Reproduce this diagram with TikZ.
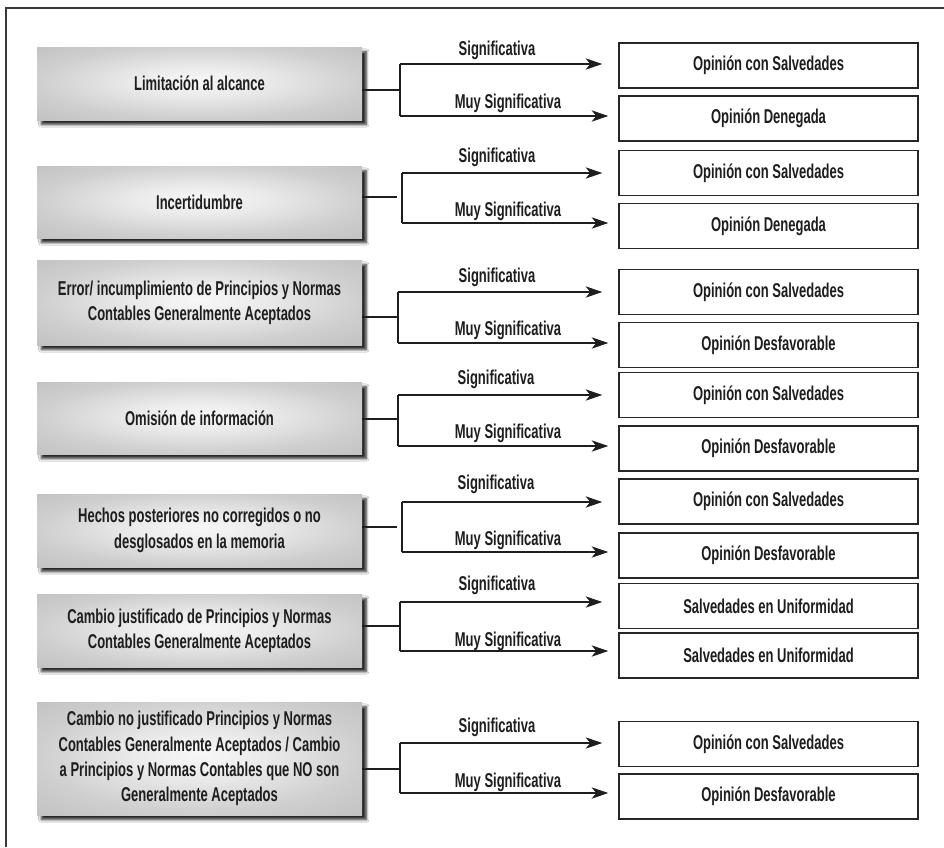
\documentclass[tikz,border=0pt]{standalone}
\usepackage{fontspec}
\setmainfont{Liberation Sans}[FakeStretch=0.65]
\usetikzlibrary{arrows.meta,shadows.blur}
\definecolor{ink}{HTML}{1E1E1E}
\definecolor{frame}{HTML}{3A3A3A}
\pgfdeclareradialshading{lboxshade}{\pgfpoint{0bp}{2bp}}{%
  color(0bp)=(black!3); color(10bp)=(black!8); color(25bp)=(black!19);
  color(36bp)=(black!24); color(50bp)=(black!27)}
\tikzset{
  lbox/.style={rectangle, minimum width=243.75pt, inner sep=2pt, align=center,
    text=ink, font=\fontsize{15}{19}\selectfont\bfseries,
    shading=lboxshade,
    blur shadow={shadow xshift=3.2pt, shadow yshift=-3.4pt, shadow blur radius=2pt,
      shadow blur steps=6, shadow opacity=85}},
  rbox/.style={rectangle, draw=black!85, line width=1.1pt, fill=white,
    minimum width=224.25pt, minimum height=33.75pt, inner sep=0pt,
    text=ink, font=\fontsize{15}{19}\selectfont\bfseries},
  lbl/.style={inner sep=0pt, text=ink, font=\fontsize{15}{19}\selectfont\bfseries},
  conn/.style={draw=ink, line width=1pt},
  arr/.style={conn, -{Stealth[length=12.5pt, width=8.5pt, inset=3.5pt]}},
}
\begin{document}
\begin{tikzpicture}[x=0.75pt, y=-0.75pt]
\useasboundingbox (0,0) rectangle (944,847);
\fill[white] (0,0) rectangle (944,847);
\draw[frame, line width=1.5pt] (6,847) -- (6,8) -- (944,8);

% ---------- Row 1
\node[lbox, minimum height=54.75pt] (L1) at (199.5,83.5) {Limitación al alcance};
\node[rbox] (R1a) at (768.5,65.5) {Opinión con Salvedades};
\node[rbox] (R1b) at (768.5,118.5) {Opinión Denegada};
\coordinate (J1) at (400,90);
\coordinate (J1a) at (400,64);
\coordinate (J1b) at (400,116);
\draw[conn] (L1.east |- J1) -- (J1);
\draw[conn] (J1a) -- (J1b);
\draw[arr, shorten >=12pt] (J1a) -- (J1a -| R1a.west);
\draw[arr, shorten >=7.5pt] (J1b) -- (J1b -| R1b.west);
\node[lbl] (S1) at (497,50) {Significativa};
\node[lbl] (M1) at (508,103) {Muy Significativa};

% ---------- Row 2
\node[lbox, minimum height=54pt] (L2) at (199.5,202) {Incertidumbre};
\node[rbox] (R2a) at (768.5,173) {Opinión con Salvedades};
\node[rbox] (R2b) at (768.5,226) {Opinión Denegada};
\coordinate (J2) at (397,197);
\coordinate (J2a) at (402,173);
\coordinate (J2b) at (402,223);
\draw[conn] (L2.east |- J2) -- (J2);
\draw[conn] (J2a) -- (J2b);
\draw[arr, shorten >=12pt] (J2a) -- (J2a -| R2a.west);
\draw[arr, shorten >=7.5pt] (J2b) -- (J2b -| R2b.west);
\node[lbl] (S2) at (497,157) {Significativa};
\node[lbl] (M2) at (508,211) {Muy Significativa};

% ---------- Row 3
\node[lbox, minimum height=63.75pt] (L3) at (199.5,302.5) {Error/ incumplimiento de Principios y Normas\\Contables Generalmente Aceptados};
\node[rbox] (R3a) at (768.5,292) {Opinión con Salvedades};
\node[rbox] (R3b) at (768.5,345) {Opinión Desfavorable};
\coordinate (J3) at (398,317);
\coordinate (J3a) at (398,292);
\coordinate (J3b) at (398,343);
\draw[conn] (L3.east |- J3) -- (J3);
\draw[conn] (J3a) -- (J3b);
\draw[arr, shorten >=12pt] (J3a) -- (J3a -| R3a.west);
\draw[arr, shorten >=7.5pt] (J3b) -- (J3b -| R3b.west);
\node[lbl] (S3) at (497,277) {Significativa};
\node[lbl] (M3) at (508,330) {Muy Significativa};

% ---------- Row 4
\node[lbox, minimum height=54pt] (L4) at (199.5,418) {Omisión de información};
\node[rbox] (R4a) at (768.5,395) {Opinión con Salvedades};
\node[rbox] (R4b) at (768.5,448.5) {Opinión Desfavorable};
\coordinate (J4) at (398,419);
\coordinate (J4a) at (398,395);
\coordinate (J4b) at (398,446);
\draw[conn] (L4.east |- J4) -- (J4);
\draw[conn] (J4a) -- (J4b);
\draw[arr, shorten >=12pt] (J4a) -- (J4a -| R4a.west);
\draw[arr, shorten >=7.5pt] (J4b) -- (J4b -| R4b.west);
\node[lbl] (S4) at (496,379) {Significativa};
\node[lbl] (M4) at (508,433) {Muy Significativa};

% ---------- Row 5
\node[lbox, minimum height=54.75pt] (L5) at (199.5,530.5) {Hechos posteriores no corregidos o no\\desglosados en la memoria};
\node[rbox] (R5a) at (768.5,501.5) {Opinión con Salvedades};
\node[rbox] (R5b) at (768.5,555.5) {Opinión Desfavorable};
\coordinate (J5) at (397,527);
\coordinate (J5a) at (402,502);
\coordinate (J5b) at (402,552);
\draw[conn] (L5.east |- J5) -- (J5);
\draw[conn] (J5a) -- (J5b);
\draw[arr, shorten >=12pt] (J5a) -- (J5a -| R5a.west);
\draw[arr, shorten >=7.5pt] (J5b) -- (J5b -| R5b.west);
\node[lbl] (S5) at (496,484) {Significativa};
\node[lbl] (M5) at (508,540) {Muy Significativa};

% ---------- Row 6
\node[lbox, minimum height=54.75pt] (L6) at (199.5,630.5) {Cambio justificado de Principios y Normas\\Contables Generalmente Aceptados};
\node[rbox] (R6a) at (768.5,606) {Salvedades en Uniformidad};
\node[rbox] (R6b) at (768.5,655.5) {Salvedades en Uniformidad};
\coordinate (J6) at (400,626);
\coordinate (J6a) at (400,602);
\coordinate (J6b) at (400,651);
\draw[conn] (L6.east |- J6) -- (J6);
\draw[conn] (J6a) -- (J6b);
\draw[arr, shorten >=12pt] (J6a) -- (J6a -| R6a.west);
\draw[arr, shorten >=7.5pt] (J6b) -- (J6b -| R6b.west);
\node[lbl] (S6) at (497,585) {Significativa};
\node[lbl] (M6) at (508,641) {Muy Significativa};

% ---------- Row 7
\node[lbox, minimum height=84.75pt] (L7) at (199.5,758.5) {Cambio no justificado Principios y Normas\\Contables Generalmente Aceptados / Cambio\\a Principios y Normas Contables que NO son\\Generalmente Aceptados};
\node[rbox] (R7a) at (768.5,744) {Opinión con Salvedades};
\node[rbox] (R7b) at (768.5,796.5) {Opinión Desfavorable};
\coordinate (J7) at (400,769);
\coordinate (J7a) at (400,743);
\coordinate (J7b) at (400,793);
\draw[conn] (L7.east |- J7) -- (J7);
\draw[conn] (J7a) -- (J7b);
\draw[arr, shorten >=12pt] (J7a) -- (J7a -| R7a.west);
\draw[arr, shorten >=7.5pt] (J7b) -- (J7b -| R7b.west);
\node[lbl] (S7) at (497,727) {Significativa};
\node[lbl] (M7) at (508,782) {Muy Significativa};
\end{tikzpicture}
\end{document}
